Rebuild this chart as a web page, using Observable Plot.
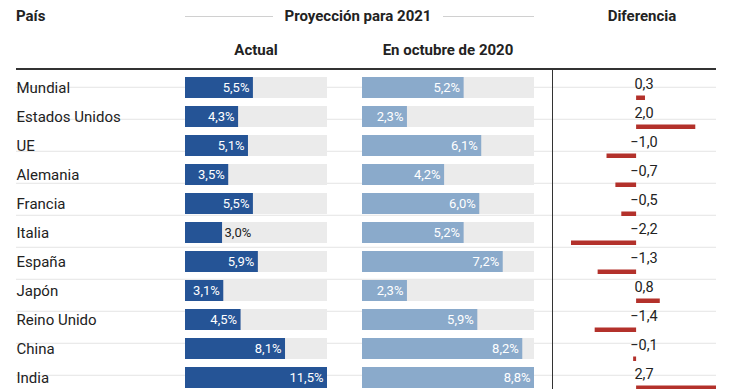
<!DOCTYPE html>
<html>
<head>
<meta charset="utf-8">
<script src="https://cdn.jsdelivr.net/npm/d3@7"></script>
<script src="https://cdn.jsdelivr.net/npm/@observablehq/plot@0.6"></script>
<style>
  html, body { margin: 0; padding: 0; background: #fff; }
  #wrap { position: relative; width: 740px; height: 389px; overflow: hidden; font-family: Roboto, sans-serif; color: #222; }
  .h { position: absolute; font-weight: 700; font-size: 15px; white-space: nowrap; line-height: 1; }
  .ln { position: absolute; height: 1px; background: #d0d0d0; }
  .pl { position: absolute; top: 70px; }
  .pl svg { background: transparent; overflow: visible; }
</style>
</head>
<body>
<div id="wrap">
  <div class="h" style="left:16px;top:9px;">País</div>
  <div class="ln" style="left:185px;width:88px;top:16px;"></div>
  <div class="h" style="left:358px;top:9px;transform:translateX(-50%);">Proyección para 2021</div>
  <div class="ln" style="left:443px;width:91px;top:16px;"></div>
  <div class="h" style="left:642px;top:9px;transform:translateX(-50%);">Diferencia</div>
  <div class="h" style="left:256px;top:43px;transform:translateX(-50%);">Actual</div>
  <div class="h" style="left:448px;top:43px;transform:translateX(-50%);">En octubre de 2020</div>
  <div id="bg" class="pl" style="left:0px;"></div>
  <div id="p1" class="pl" style="left:0px;"></div>
  <div id="p2" class="pl" style="left:345px;"></div>
  <div id="p3" class="pl" style="left:553px;"></div>
  <div style="position:absolute;left:16px;width:700px;top:68px;height:2px;background:#333;"></div>
  <div style="position:absolute;left:552px;width:1px;top:69px;height:330px;background:#333;"></div>
</div>
<script>
const countries = ["Mundial","Estados Unidos","UE","Alemania","Francia","Italia","España","Japón","Reino Unido","China","India"];
const actual = [5.5,4.3,5.1,3.5,5.5,3.0,5.9,3.1,4.5,8.1,11.5];
const october = [5.2,2.3,6.1,4.2,6.0,5.2,7.2,2.3,5.9,8.2,8.8];
const difference = [0.3,2.0,-1.0,-0.7,-0.5,-2.2,-1.3,0.8,-1.4,-0.1,2.7];

const rowH = 29.5;
const H = rowH * countries.length;
const rows = countries.map((c, i) => ({country: c, actual: actual[i], october: october[i], diff: difference[i]}));
const maxA = d3.max(actual), maxO = d3.max(october);
const pct = v => v.toFixed(1).replace(".", ",") + "%";
const num = v => (v < 0 ? "\u2212" : "") + Math.abs(v).toFixed(1).replace(".", ",");
const yScale = {domain: countries, range: [0, H], padding: 0, axis: null};
const base = {height: Math.ceil(H), marginTop: 0, marginBottom: 0, style: {background: "transparent", fontFamily: "Roboto, sans-serif", overflow: "visible"}};

// background separators
document.getElementById("bg").append(Plot.plot({
  ...base, width: 740, marginLeft: 16, marginRight: 24,
  y: yScale,
  marks: [Plot.ruleY(countries, {y: d => d, dy: rowH / 2, stroke: "#e4e4e4", strokeWidth: 1})]
}));

// Actual column
const INSIDE = 3.0;
document.getElementById("p1").append(Plot.plot({
  ...base, width: 345, marginLeft: 185, marginRight: 18,
  x: {domain: [0, maxA], axis: null},
  y: yScale,
  marks: [
    Plot.barX(rows, {y: "country", x1: 0, x2: () => maxA, fill: "#ebebeb", insetTop: 4, insetBottom: 4}),
    Plot.barX(rows, {y: "country", x1: 0, x2: "actual", fill: "#255496", insetTop: 4, insetBottom: 4}),
    Plot.text(rows.filter(d => d.actual > INSIDE), {y: "country", x: "actual", text: d => pct(d.actual), textAnchor: "end", dx: -4, fill: "white", fontSize: 13}),
    Plot.text(rows.filter(d => d.actual <= INSIDE), {y: "country", x: "actual", text: d => pct(d.actual), textAnchor: "start", dx: 2, fill: "#222", fontSize: 13}),
    Plot.text(rows, {y: "country", frameAnchor: "left", dx: -169, text: "country", textAnchor: "start", fill: "#222", fontSize: 15})
  ]
}));

// October 2020 column
document.getElementById("p2").append(Plot.plot({
  ...base, width: 208, marginLeft: 17, marginRight: 19,
  x: {domain: [0, maxO], axis: null},
  y: yScale,
  marks: [
    Plot.barX(rows, {y: "country", x1: 0, x2: () => maxO, fill: "#ebebeb", insetTop: 4, insetBottom: 4}),
    Plot.barX(rows, {y: "country", x1: 0, x2: "october", fill: "#8aaacb", insetTop: 4, insetBottom: 4}),
    Plot.text(rows, {y: "country", x: "october", text: d => pct(d.october), textAnchor: "end", dx: -4, fill: "white", fontSize: 13})
  ]
}));

// Difference column
document.getElementById("p3").append(Plot.plot({
  ...base, width: 187, marginLeft: 18, marginRight: 24,
  x: {domain: d3.extent(difference), axis: null},
  y: yScale,
  marks: [
    Plot.barX(rows, {y: "country", x1: 0, x2: "diff", fill: "#b3312b", insetTop: 22.5, insetBottom: 2}),
    Plot.text(rows, {y: "country", frameAnchor: "middle", dy: -4, text: d => num(d.diff), fill: "#222", fontSize: 14.5})
  ]
}));
</script>
</body>
</html>
